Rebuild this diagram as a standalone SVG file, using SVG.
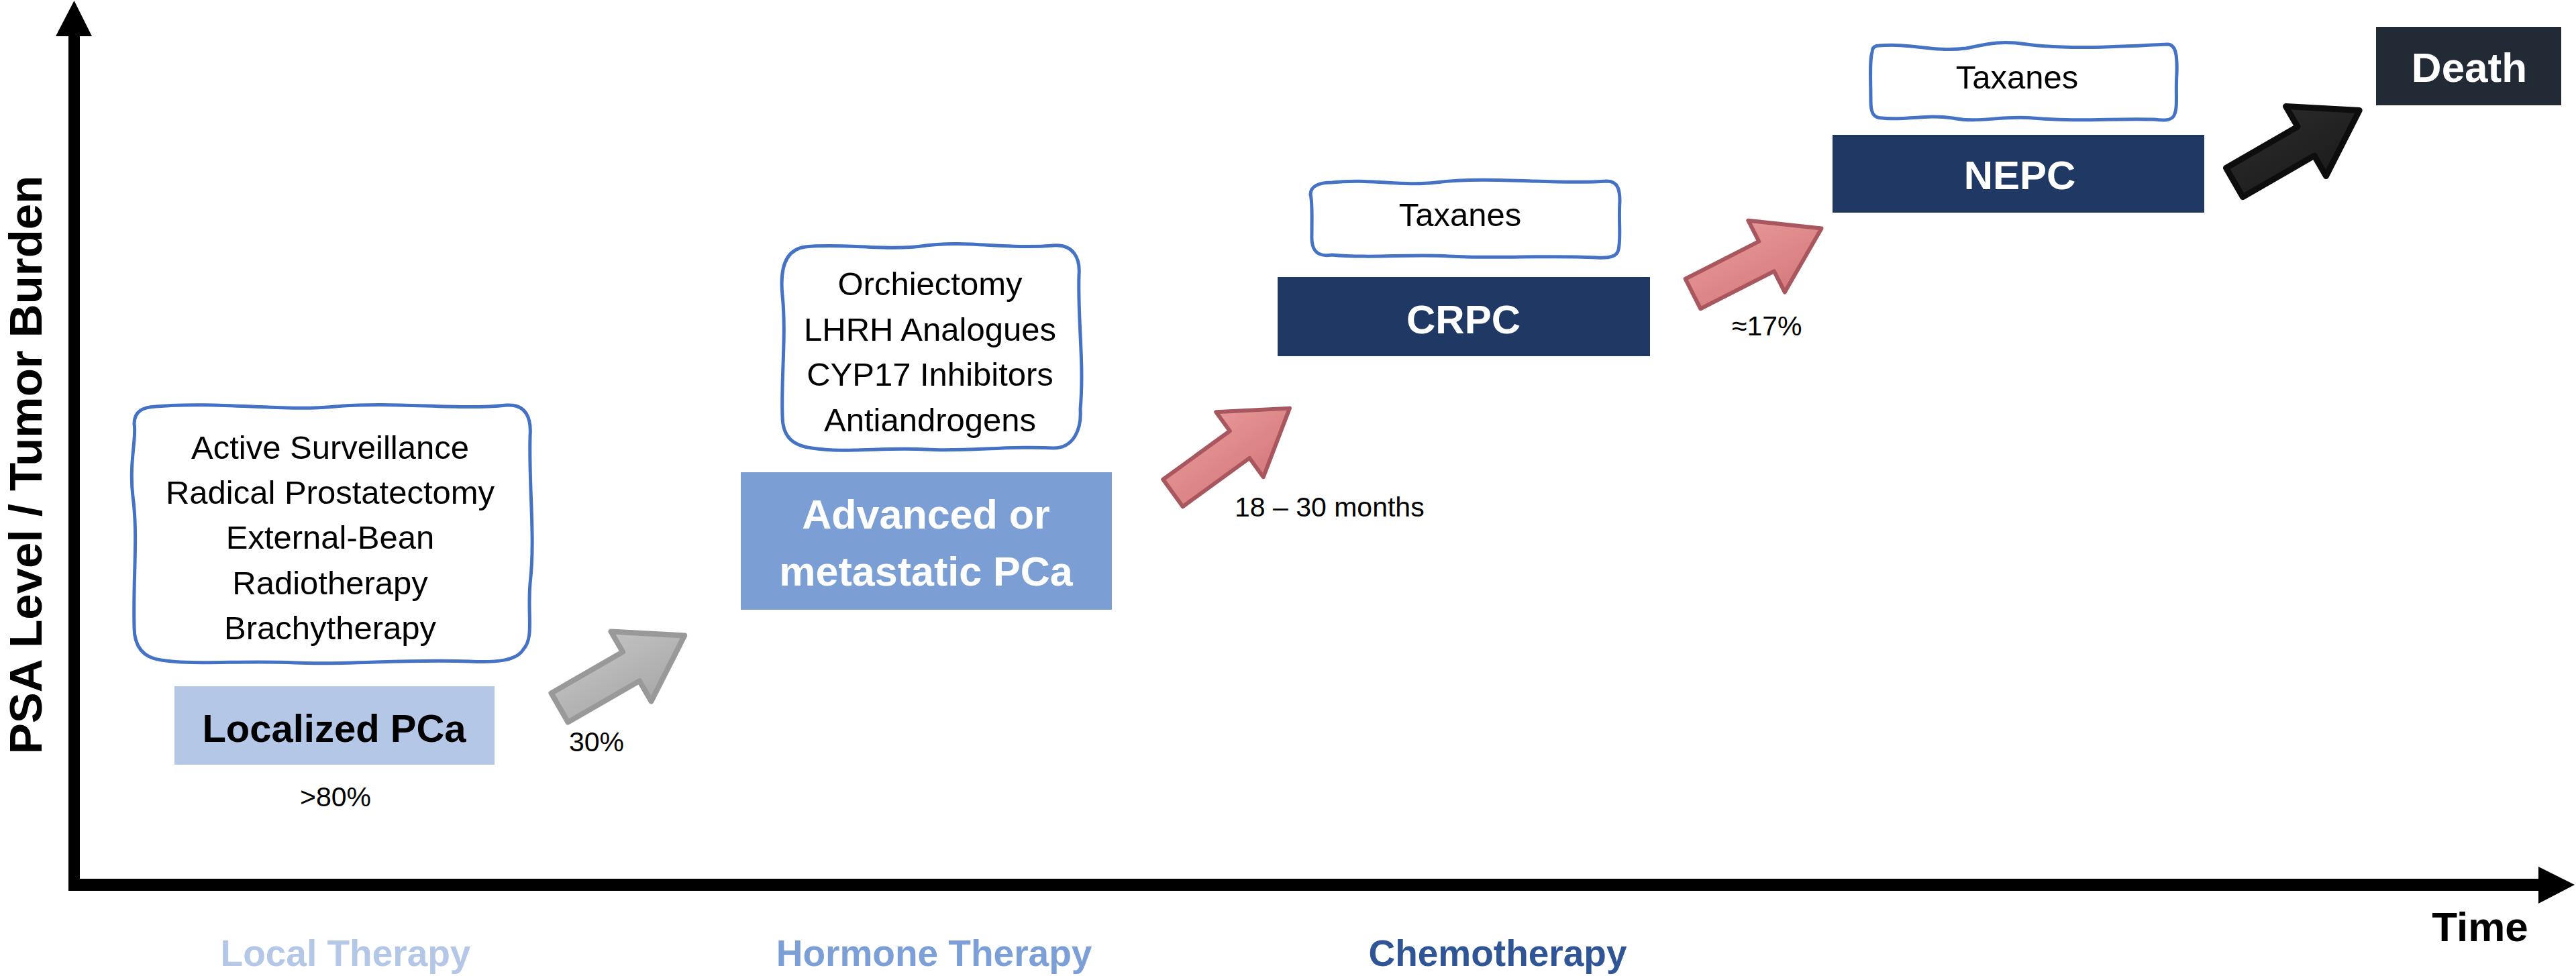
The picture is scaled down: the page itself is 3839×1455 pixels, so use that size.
<svg xmlns="http://www.w3.org/2000/svg" width="3839" height="1455" viewBox="0 0 3839 1455">
  <style>
    text { font-family: "Liberation Sans", Arial, sans-serif; }
    .cloud { fill: #ffffff; stroke: #4472c4; stroke-width: 5; stroke-linejoin: round; }
    .ct { font-size: 49px; fill: #000; text-anchor: middle; }
    .bt { font-weight: bold; text-anchor: middle; }
    .lbl { font-size: 41px; fill: #000; }
    .ax { fill: #000; }
    .arrow { stroke-linejoin: round; }
  </style>
  <defs>
    <linearGradient id="gGray" x1="0" y1="0" x2="0" y2="1">
      <stop offset="0" stop-color="#c2c2c2"/>
      <stop offset="1" stop-color="#a9a9a9"/>
    </linearGradient>
    <linearGradient id="gPink" x1="0" y1="0" x2="0" y2="1">
      <stop offset="0" stop-color="#e79797"/>
      <stop offset="1" stop-color="#d67a7d"/>
    </linearGradient>
    <linearGradient id="gBlack" x1="0" y1="0" x2="0" y2="1">
      <stop offset="0" stop-color="#2a2a2a"/>
      <stop offset="1" stop-color="#1c1c1c"/>
    </linearGradient>
    <path id="blockArrow" d="M0,-25 L123,-25 L123,-60 L215,0 L123,60 L123,25 L0,25 Z"/>
  </defs>

  <rect width="3839" height="1455" fill="#ffffff"/>

  <!-- Axes -->
  <g id="axes">
    <rect class="ax" x="102" y="52" width="17" height="1276"/>
    <polygon class="ax" points="83,54 110.5,1 137,54"/>
    <rect class="ax" x="102" y="1310" width="3683" height="18"/>
    <polygon class="ax" points="3783,1292 3837,1319 3783,1347"/>
    <text x="62" y="693" transform="rotate(-90 62 693)" font-size="69" font-weight="bold" text-anchor="middle" fill="#000">PSA Level / Tumor Burden</text>
    <text x="3696" y="1403" font-size="62" font-weight="bold" text-anchor="middle" fill="#000">Time</text>
  </g>

  <!-- Therapy labels -->
  <g id="therapy-labels">
    <text x="515" y="1440" font-size="55" font-weight="bold" text-anchor="middle" fill="#b4c7e7">Local Therapy</text>
    <text x="1392" y="1440" font-size="55" font-weight="bold" text-anchor="middle" fill="#7b9fd6">Hormone Therapy</text>
    <text x="2232" y="1440" font-size="55" font-weight="bold" text-anchor="middle" fill="#2f5597">Chemotherapy</text>
  </g>

  <!-- Local therapy cloud -->
  <g id="local-therapy-options">
    <path class="cloud" d="M232,606 C330,598 420,614 500,606 C590,598 680,612 755,604 C785,602 792,625 790,650 C788,730 798,800 790,870 C786,920 796,950 780,968 C770,985 740,988 700,986 C600,982 520,992 440,988 C360,984 290,992 240,984 C210,980 200,960 200,935 C198,860 206,800 198,740 C192,690 204,650 200,632 C200,612 214,607 232,606 Z"/>
    <text class="ct" x="492" y="684" font-size="50">Active Surveillance</text>
    <text class="ct" x="492" y="751" font-size="50">Radical Prostatectomy</text>
    <text class="ct" x="492" y="818" font-size="50">External-Bean</text>
    <text class="ct" x="492" y="886" font-size="50">Radiotherapy</text>
    <text class="ct" x="492" y="953" font-size="50">Brachytherapy</text>
  </g>

  <g id="localized-pca">
    <rect x="260" y="1023" width="477" height="117" fill="#b4c7e7"/>
    <text class="bt" x="498" y="1106" font-size="58" fill="#000">Localized PCa</text>
    <text class="lbl" x="500" y="1202" text-anchor="middle">&gt;80%</text>
  </g>

  <!-- Hormone therapy cloud -->
  <g id="hormone-therapy-options">
    <path class="cloud" d="M1200,368 C1260,362 1320,375 1380,366 C1440,358 1500,372 1570,366 C1600,364 1610,385 1608,410 C1606,480 1616,540 1610,610 C1612,640 1600,668 1570,668 C1500,664 1440,674 1380,670 C1320,666 1260,676 1210,668 C1180,664 1166,650 1166,620 C1164,560 1172,500 1166,440 C1162,400 1170,372 1200,368 Z"/>
    <text class="ct" x="1386" y="440">Orchiectomy</text>
    <text class="ct" x="1386" y="508">LHRH Analogues</text>
    <text class="ct" x="1386" y="575">CYP17 Inhibitors</text>
    <text class="ct" x="1386" y="643">Antiandrogens</text>
  </g>

  <g id="advanced-pca">
    <rect x="1104" y="704" width="553" height="205" fill="#7b9fd5"/>
    <text class="bt" x="1380" y="788" font-size="61" fill="#ffffff">Advanced or</text>
    <text class="bt" x="1380" y="873" font-size="61" fill="#ffffff">metastatic PCa</text>
  </g>

  <!-- CRPC -->
  <g id="crpc-taxanes">
    <path class="cloud" d="M1985,272 C2040,266 2090,278 2140,272 C2220,262 2320,276 2395,270 C2412,270 2414,285 2414,300 C2412,330 2416,355 2412,372 C2410,382 2400,385 2380,384 C2300,380 2230,386 2160,382 C2100,378 2040,386 1985,380 C1960,384 1954,370 1955,350 C1955,320 1956,300 1953,290 C1953,278 1965,272 1985,272 Z"/>
    <text class="ct" x="2176" y="337" font-size="46">Taxanes</text>
  </g>
  <g id="crpc">
    <rect x="1904" y="413" width="555" height="118" fill="#1f3864"/>
    <text class="bt" x="2181" y="497" font-size="60" fill="#ffffff">CRPC</text>
  </g>

  <!-- NEPC -->
  <g id="nepc-taxanes">
    <path class="cloud" d="M2800,68 C2850,64 2880,78 2930,72 C2960,66 2980,60 3020,66 C3080,74 3150,70 3230,66 C3242,66 3245,80 3244,110 C3242,140 3246,160 3240,172 C3236,180 3225,180 3210,178 C3150,176 3100,182 3030,176 C2980,172 2950,184 2910,176 C2870,170 2840,180 2805,176 C2790,176 2788,165 2788,150 C2788,120 2786,90 2790,78 C2790,70 2795,68 2800,68 Z"/>
    <text class="ct" x="3006" y="132" font-size="46">Taxanes</text>
  </g>
  <g id="nepc">
    <rect x="2731" y="201" width="554" height="116" fill="#1f3864"/>
    <text class="bt" x="3010" y="282" font-size="60" fill="#ffffff">NEPC</text>
  </g>

  <g id="death">
    <rect x="3541" y="40" width="276" height="117" fill="#222a35"/>
    <text class="bt" x="3680" y="122" font-size="62" fill="#ffffff">Death</text>
  </g>

  <!-- Connectors -->
  <g id="connectors">
    <use href="#blockArrow" class="arrow" transform="translate(834,1055) rotate(-30)" fill="url(#gGray)" stroke="#999999" stroke-width="8"/>
    <use href="#blockArrow" class="arrow" transform="translate(1748,735) rotate(-36)" fill="url(#gPink)" stroke="#a9575e" stroke-width="6"/>
    <use href="#blockArrow" class="arrow" transform="translate(2523,438) rotate(-27)" fill="url(#gPink)" stroke="#a9575e" stroke-width="6"/>
    <use href="#blockArrow" class="arrow" transform="translate(3330,272) rotate(-30)" fill="url(#gBlack)" stroke="#0d0d0d" stroke-width="9"/>
    <text class="lbl" x="848" y="1120">30%</text>
    <text class="lbl" x="1840" y="770" font-size="43">18 – 30 months</text>
    <text class="lbl" x="2581" y="500">≈17%</text>
  </g>
</svg>
